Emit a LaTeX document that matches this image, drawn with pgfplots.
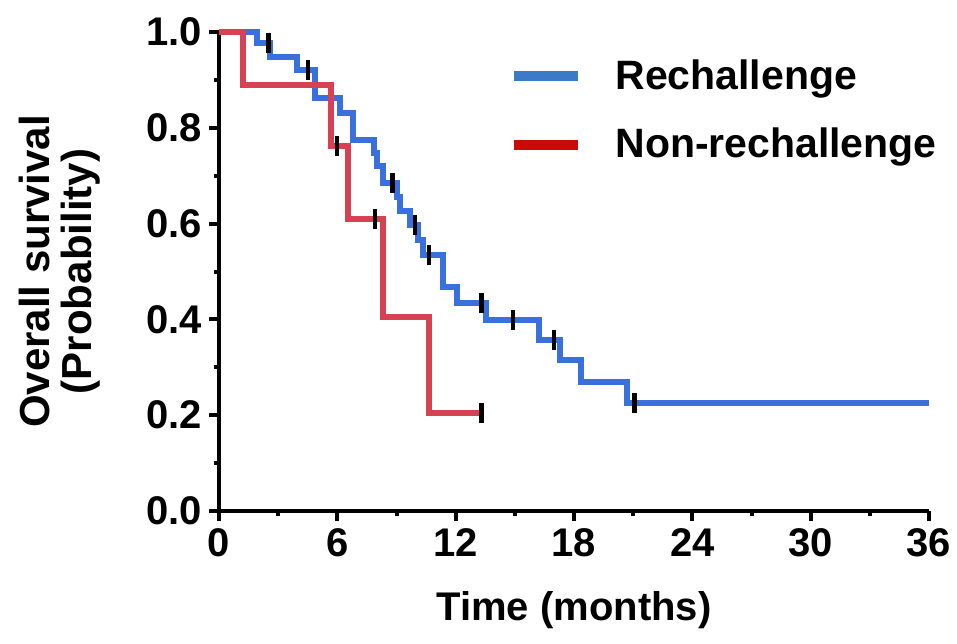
\documentclass[border=0pt]{standalone}
\usepackage{fontspec}
\setmainfont{Liberation Sans}
\usepackage{pgfplots}
\pgfplotsset{compat=1.18}

\definecolor{kmblue}{RGB}{58,112,222}
\definecolor{kmred}{RGB}{214,66,82}
\definecolor{legblue}{RGB}{59,122,200}
\definecolor{legred}{RGB}{200,10,10}

\begin{document}
\begin{tikzpicture}
\begin{axis}[
  scale only axis, width=355pt, height=239.5pt,
  at={(0,0)}, anchor=south west,
  xmin=0, xmax=36, ymin=0, ymax=1,
  axis lines=left, axis line style={-, line width=2pt},
  xtick={0,6,...,36}, minor xtick={3,9,...,33},
  ytick={0,0.2,...,1.0}, minor ytick={0.1,0.3,...,0.9},
  tick align=outside, major tick length=5pt, minor tick length=2.5pt,
  every tick/.style={black, line width=2pt},
  yticklabel style={/pgf/number format/.cd, fixed, fixed zerofill, precision=1},
  /pgf/number format/assume math mode=true,
  tick label style={font=\bfseries\fontsize{20}{24}\selectfont},
  xlabel={Time (months)},
  ylabel={Overall survival\\(Probability)},
  label style={font=\bfseries\fontsize{20}{21}\selectfont, align=center},
  xlabel style={at={(axis description cs:0.5,0)}, anchor=center, yshift=-49.5pt},
  ylabel style={at={(axis description cs:-0.225,0.5)}, anchor=center,
    font=\bfseries\fontsize{21}{21}\selectfont},
  clip=false,
  legend style={at={(0.40,0.96)}, anchor=north west, draw=none, fill=none,
    font=\bfseries\fontsize{20.5}{22}\selectfont, row sep=14pt,
    /tikz/every odd column/.append style={column sep=14pt}},
  legend cell align=left,
  legend image code/.code={\draw[line width=5pt] (0pt,0pt) -- (32pt,0pt);},
]
% Rechallenge
\addplot[const plot, kmblue, line width=3pt, forget plot] coordinates {
  (0,1.0) (1.93,0.976) (2.6,0.947) (3.94,0.921) (4.87,0.862) (6.14,0.830)
  (6.81,0.775) (7.85,0.748) (8.0,0.720) (8.33,0.684) (9.05,0.655) (9.2,0.627)
  (9.7,0.598) (10.1,0.566) (10.35,0.534) (11.37,0.468) (12.08,0.434)
  (13.54,0.399) (16.2,0.358) (17.3,0.315) (18.35,0.270) (20.7,0.225) (36,0.225)
};
% Non-rechallenge
\addplot[const plot, kmred, line width=3pt, forget plot] coordinates {
  (0,1.0) (1.2,0.889) (5.7,0.762) (6.56,0.609) (8.33,0.406) (10.67,0.204) (13.3,0.204)
};
% censored
\addplot[only marks, mark=|, mark size=5pt, mark options={line width=2.2pt, black}, forget plot] coordinates {
  (2.5,0.976) (4.5,0.921) (8.8,0.684) (9.94,0.598) (10.66,0.534)
  (13.3,0.434) (14.9,0.399) (17.0,0.358) (21.06,0.225)
};
\addplot[only marks, mark=|, mark size=5pt, mark options={line width=2.2pt, black}, forget plot] coordinates {
  (5.97,0.762) (7.9,0.609) (13.3,0.204)
};
\addlegendimage{legblue}
\addlegendentry{Rechallenge}
\addlegendimage{legred}
\addlegendentry{Non-rechallenge}
\end{axis}
\pgfresetboundingbox
\path (-109.5pt,-66pt) rectangle (369pt,255.5pt);
\end{tikzpicture}
\end{document}
